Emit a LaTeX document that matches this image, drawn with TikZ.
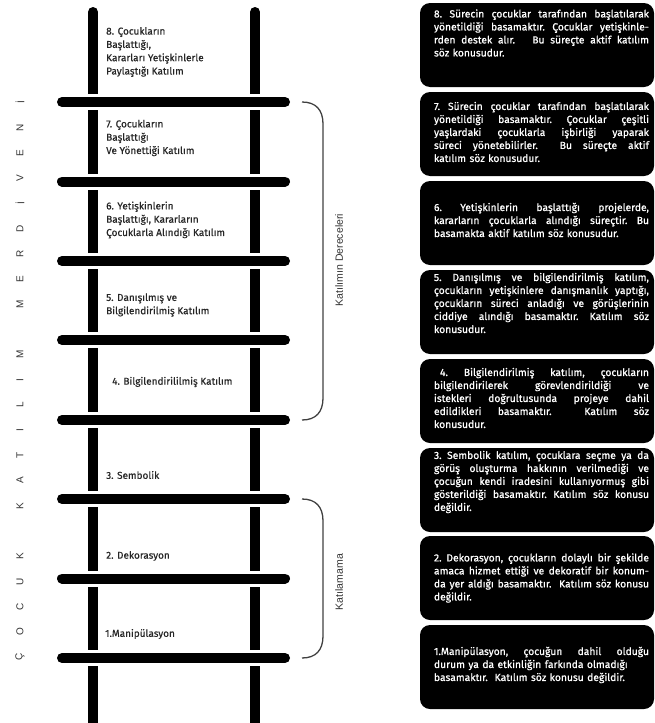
\documentclass[tikz,border=0pt]{standalone}
\usepackage{fontspec}
\setmainfont{Fira Sans}
\newfontfamily\labelfont{Liberation Sans}
\newfontfamily\stagefont[FakeBold=0.5]{Fira Sans}
\newfontfamily\infofont[FakeBold=0.8]{Fira Sans}
\usepackage{tikz}
\tikzset{rail/.style={line width=10pt, color=black, line cap=round}}
\tikzset{rung/.style={line width=10pt, color=black, line cap=round, preaction={draw=white, line width=16pt}}}
\tikzset{bracket/.style={line width=1.3pt, color=black!75}}
\tikzset{panel/.style={fill=black, rounded corners=10pt}}
\tikzset{stage/.style={anchor=west, align=left, inner sep=0pt, text=black!85, font=\stagefont\fontsize{10}{13.3}\selectfont}}
\tikzset{info/.style={inner sep=0pt, text width=215pt, align=left, text=white, font=\infofont\frenchspacing\fontsize{10.3}{13}\selectfont}}
\tikzset{side/.style={rotate=90, inner sep=0pt, text=black!80, font=\labelfont\fontsize{10.5}{12}\selectfont}}
\tikzset{spine/.style={rotate=90, inner sep=0pt, text=black!80, font=\labelfont\fontsize{10}{11}\selectfont}}
\newcommand{\jline}[1]{\makebox[215pt][s]{\spaceskip=0pt\xspaceskip=0pt #1}\\}

\begin{document}
\begin{tikzpicture}[x=1pt, y=-1pt]
	\useasboundingbox (0,0) rectangle (655,723);
	\draw[rail] (93,12) -- (93,735) (255,12) -- (255,735);
	\draw[rung] (62,102) --++(223,0) (62,181.5) --++(223,0) (62,261) --++(223,0) (62,340) --++(223,0) (62,420) --++(223,0) (62,499) --++(223,0) (62,578.5) --++(223,0) (62,658) --++(223,0);
	
	\node[stage] (st8) at (106,52) {8. Çocukların\\Başlattığı,\\Kararları Yetişkinlerle\\Paylaştığı Katılım};
	\node[stage] (st7) at (106,138) {7. Çocukların\\Başlattığı\\Ve Yönettiği Katılım};
	\node[stage] (st6) at (106,220) {6. Yetişkinlerin\\Başlattığı, Kararların\\Çocuklarla Alındığı Katılım};
	\node[stage] (st5) at (106,305) {5. Danışılmış ve\\Bilgilendirilmiş Katılım};
	\node[stage] (st4) at (112,382) {4. Bilgilendirililmiş Katılım};
	\node[stage] (st3) at (106,475) {3. Sembolik};
	\node[stage] (st2) at (106,556) {2. Dekorasyon};
	\node[stage] (st1) at (105,634) {1.Manipülasyon};
	
	\foreach \ch/\k in {Ç/0,O/1,C/2,U/3,K/4,K/6,A/7,T/8,I/9,L/10,I/11,M/12,M/14,E/15,R/16,D/17,İ/18,V/19,E/20,N/21,İ/22}
		\node[spine] (sp\k) at (20,657-25.2*\k) {\ch};
	
	\draw[bracket] (302,102) .. controls (316,102) and (323,110) .. (323,124) -- (323,398) .. controls (323,412) and (316,420) .. (302,420);
	\draw[bracket] (302,499) .. controls (316,499) and (323,507) .. (323,521) -- (323,636) .. controls (323,650) and (316,658) .. (302,658);
	\node[side] (degrees) at (339,260) {Katılımın Dereceleri};
	\node[side] (none) at (339,582) {Katılamama};
	
	\begin{scope}[xshift=420pt]
		\fill[panel] (0,3) rectangle ++(234,84);
		\fill[panel] (0,92) rectangle ++(234,84);
		\fill[panel] (0,181) rectangle ++(234,84);
		\fill[panel] (0,270) rectangle ++(234,84);
		\fill[panel] (0,359) rectangle ++(234,84);
		\fill[panel] (0,448) rectangle ++(234,84);
		\fill[panel] (0,536) rectangle ++(234,84);
		\fill[panel] (0,625) rectangle ++(234,84);
		
		\node[info] (tx8) at (121.5,33) {\jline{8. Sürecin çocuklar tarafından başlatılarak}\jline{yönetildiği basamaktır. Çocuklar yetişkinle-}\jline{rden destek alır. \ \ Bu süreçte aktif katılım}söz konusudur.};
		\node[info] (tx7) at (121.5,132) {\jline{7. Sürecin çocuklar tarafından başlatılarak}\jline{yönetildiği basamaktır. Çocuklar çeşitli}\jline{yaşlardaki çocuklarla işbirliği yaparak}\jline{süreci yönetebilirler. \ Bu süreçte aktif}katılım söz konusudur.};
		\node[info] (tx6) at (121.5,220) {\jline{6. Yetişkinlerin başlattığı projelerde,}\jline{kararların çocuklarla alındığı süreçtir. Bu}basamakta aktif katılım söz konusudur.};
		\node[info] (tx5) at (121.5,303) {\jline{5. Danışılmış ve bilgilendirilmiş katılım,}\jline{çocukların yetişkinlere danışmanlık yaptığı,}\jline{çocukların süreci anladığı ve görüşlerinin}\jline{ciddiye alındığı basamaktır. Katılım söz}konusudur.};
		\node[info] (tx4) at (121.5,398) {\jline{\hspace*{6pt}4. Bilgilendirilmiş katılım, çocukların}\jline{bilgilendirilerek görevlendirildiği ve}\jline{istekleri doğrultusunda projeye dahil}\jline{edildikleri basamaktır. \ Katılım söz}konusudur.};
		\node[info] (tx3) at (121.5,482) {\jline{3. Sembolik katılım, çocuklara seçme ya da}\jline{görüş oluşturma hakkının verilmediği ve}\jline{çocuğun kendi iradesini kullanıyormuş gibi}\jline{gösterildiği basamaktır. Katılım söz konusu}değildir.};
		\node[info] (tx2) at (121.5,578) {\jline{2. Dekorasyon, çocukların dolaylı bir şekilde}\jline{amaca hizmet ettiği ve dekoratif bir konum-}\jline{da yer aldığı basamaktır. \ Katılım söz konusu}değildir.};
		\node[info] (tx1) at (121.5,665) {\jline{1.Manipülasyon, çocuğun dahil olduğu}durum ya da etkinliğin farkında olmadığı\\basamaktır. \ Katılım söz konusu değildir.};
	\end{scope}
\end{tikzpicture}
\end{document}
